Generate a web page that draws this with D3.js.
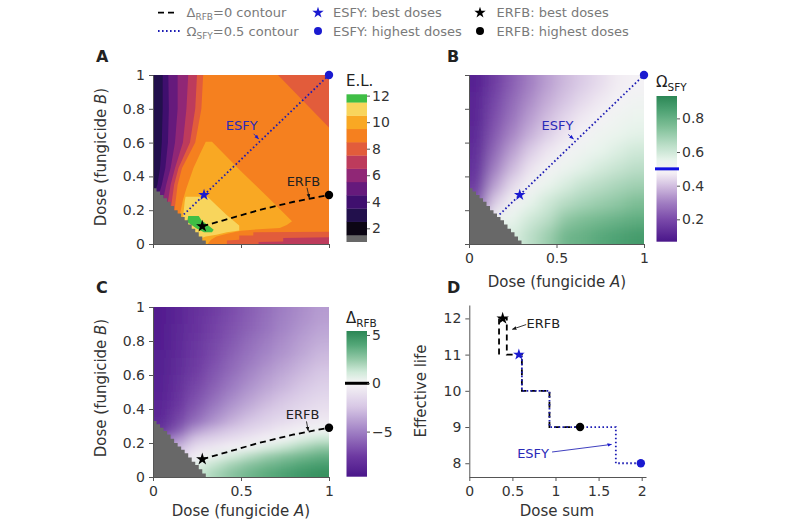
<!DOCTYPE html>
<html><head><meta charset="utf-8">
<script src="https://cdn.jsdelivr.net/npm/d3@7/dist/d3.min.js"></script>
<style>body{margin:0;background:#fff}svg{display:block;font-family:"DejaVu Sans",Verdana,sans-serif}</style>
</head><body><svg id="chart" width="800" height="530"></svg>
<script>
// ================= DATA =================
// Panel A: effective life (E.L.) levels and colours
const elLevels = [1,2,3,4,5,6,7,8,9,10,11,12];
const elColors = ["#686868","#0c0614","#22104c","#3f0f6e","#661a7c","#902776","#bd3b5c","#e25c3b","#f5801f","#f9a823","#f8d55c","#3fbe45"];
const elTicks = [2,4,6,8,10,12];
const elBackgroundLevel = 9;
// left-hand bands: region left of each edge has the given level
const elBandLevels = [8,7,6,5,4,3];
const elBandEdges = [
  [[0.285,1],[0.275,0.8],[0.24,0.6],[0.165,0.45],[0.14,0.35],[0.12,0.18]],
  [[0.25,1],[0.24,0.8],[0.21,0.6],[0.145,0.45],[0.12,0.35],[0.1,0.2]],
  [[0.20,1],[0.19,0.8],[0.17,0.6],[0.125,0.45],[0.10,0.35],[0.08,0.22]],
  [[0.14,1],[0.14,0.8],[0.125,0.6],[0.10,0.45],[0.075,0.35],[0.055,0.25]],
  [[0.087,1],[0.09,0.8],[0.085,0.6],[0.07,0.45],[0.05,0.35],[0.03,0.28]],
  [[0.055,1],[0.055,0.8],[0.05,0.6],[0.04,0.45],[0.025,0.35],[0.01,0.31]]
];
// other level patches
const elPatchLevels = [8,8,7,10,11,12];
const elPatches = [
  [[0.71,1],[1,1],[1,0.69]],
  [[0.42,0],[0.42,0.02],[0.49,0.025],[0.49,0.05],[0.57,0.05],[0.57,0.07],[1,0.072],[1,0]],
  [[0.6,0],[0.6,0.012],[0.74,0.015],[0.74,0.035],[1,0.04],[1,0]],
  [[0.30,0.605],[0.335,0.605],[0.5,0.43],[0.65,0.28],[0.79,0.135],[0.76,0.112],[0.72,0.095],[0.6,0.088],[0.5,0.078],[0.42,0.06],[0.36,0.045],[0.33,0.025],[0.31,0],[0.2,0],[0.15,0.16],[0.17,0.26],[0.19,0.33],[0.23,0.45],[0.27,0.54]],
  [[0.185,0.28],[0.31,0.28],[0.36,0.23],[0.42,0.17],[0.49,0.11],[0.49,0.08],[0.42,0.07],[0.36,0.055],[0.30,0.045],[0.26,0.03],[0.2,0.05],[0.17,0.14],[0.175,0.2],[0.18,0.25]],
  [[0.2,0.165],[0.26,0.165],[0.275,0.14],[0.32,0.105],[0.345,0.085],[0.335,0.07],[0.29,0.07],[0.25,0.09],[0.215,0.115],[0.195,0.13]]
];
// infeasible (grey) region boundary, sampled along dose A
const grayBoundary = [[0,0.33],[0.02,0.31],[0.04,0.29],[0.06,0.27],[0.08,0.25],[0.1,0.225],[0.12,0.2],[0.14,0.18],[0.16,0.16],[0.18,0.14],[0.2,0.115],[0.22,0.09],[0.24,0.07],[0.26,0.045],[0.28,0.02],[0.3,0]];

const doseTicksX = [0,0.5,1];
const doseTicksY = [0,0.2,0.4,0.6,0.8,1];

// Panel B: Omega_SFY grid (cell centres)
const omegaX = [0.05,0.15,0.25,0.35,0.45,0.55,0.65,0.75,0.85,0.95];
const omegaY = [0.95,0.85,0.75,0.65,0.55,0.45,0.35,0.25,0.15,0.05];
const omegaGrid = [
  [0.10,0.17,0.24,0.30,0.35,0.39,0.42,0.445,0.47,0.49],
  [0.11,0.19,0.26,0.32,0.37,0.41,0.44,0.465,0.49,0.51],
  [0.11,0.21,0.28,0.345,0.395,0.435,0.465,0.49,0.515,0.535],
  [0.12,0.23,0.31,0.375,0.425,0.46,0.49,0.52,0.54,0.56],
  [0.13,0.26,0.35,0.42,0.46,0.495,0.525,0.55,0.575,0.60],
  [0.14,0.30,0.39,0.455,0.495,0.53,0.56,0.59,0.615,0.64],
  [0.16,0.35,0.44,0.495,0.54,0.58,0.62,0.645,0.67,0.69],
  [0.21,0.42,0.495,0.55,0.60,0.645,0.675,0.70,0.72,0.75],
  [0.32,0.50,0.55,0.60,0.64,0.72,0.75,0.77,0.79,0.81],
  [0.50,0.60,0.58,0.64,0.70,0.78,0.80,0.83,0.85,0.87]
];
const omegaTicks = [0.2,0.4,0.6,0.8];
const omegaContourLevel = 0.5;

// Panel C: Delta_RFB grid (cell centres)
const deltaX = [0.05,0.15,0.25,0.35,0.45,0.55,0.65,0.75,0.85,0.95];
const deltaY = [0.975,0.925,0.875,0.825,0.775,0.725,0.675,0.625,0.575,0.525,0.475,0.425,0.375,0.325,0.275,0.225,0.175,0.125,0.075,0.025];
const deltaGrid = [
  [-9.2,-8.6,-8.0,-7.4,-6.8,-6.2,-5.6,-5.0,-4.5,-4.0],
  [-9.2,-8.6,-7.9,-7.3,-6.7,-6.1,-5.5,-4.9,-4.4,-3.9],
  [-9.2,-8.5,-7.9,-7.2,-6.6,-6.0,-5.4,-4.8,-4.2,-3.7],
  [-9.1,-8.5,-7.8,-7.1,-6.5,-5.8,-5.2,-4.6,-4.0,-3.5],
  [-9.1,-8.4,-7.7,-7.0,-6.3,-5.6,-5.0,-4.4,-3.8,-3.3],
  [-9.0,-8.4,-7.6,-6.9,-6.1,-5.4,-4.8,-4.2,-3.6,-3.0],
  [-9.0,-8.3,-7.5,-6.7,-5.9,-5.2,-4.5,-3.9,-3.3,-2.8],
  [-9.0,-8.2,-7.4,-6.5,-5.7,-4.9,-4.2,-3.6,-3.0,-2.5],
  [-8.9,-8.1,-7.2,-6.3,-5.4,-4.6,-3.9,-3.3,-2.7,-2.2],
  [-8.9,-8.0,-7.0,-6.0,-5.1,-4.3,-3.6,-3.0,-2.4,-1.9],
  [-8.8,-7.8,-6.7,-5.7,-4.7,-3.9,-3.2,-2.6,-2.0,-1.6],
  [-8.7,-7.6,-6.4,-5.3,-4.3,-3.5,-2.8,-2.2,-1.7,-1.3],
  [-8.6,-7.3,-6.0,-4.8,-3.8,-3.0,-2.3,-1.8,-1.3,-1.0],
  [-8.4,-7.0,-5.4,-4.2,-3.2,-2.4,-1.8,-1.3,-0.9,-0.6],
  [-8.0,-6.2,-4.0,-3.0,-2.3,-1.7,-1.1,-0.6,-0.2,0.2],
  [-6.0,-4.5,-2.5,-1.8,-1.3,-0.8,-0.3,0.2,0.8,1.3],
  [-5.0,-3.0,-1.2,-0.8,-0.3,0.2,0.8,1.4,2.0,2.5],
  [-4.0,-2.0,-0.3,0.4,1.0,1.7,2.3,2.8,3.2,3.6],
  [-3.0,-1.0,0.6,1.4,2.1,2.7,3.2,3.6,4.0,4.3],
  [-2.0,0.0,1.2,2.0,2.7,3.3,3.8,4.2,4.6,4.9]
];
const deltaTicks = [-5,0,5];
const deltaContourLevel = 0;

// contours and optimal doses (fungicide A, fungicide B)
const omegaContour = [[0.175,0.175],[0.5,0.5],[1,1]];
const deltaContour = [[0.28,0.105],[0.4,0.14],[0.6,0.2],[0.8,0.25],[1,0.29]];
const esfyBest = [0.29,0.29];
const esfyHighest = [1,1];
const erfbBest = [0.28,0.105];
const erfbHighest = [1,0.29];

// Panel D: effective life vs dose sum
const sumEsfy = [[0.575,11],[0.61,11],[0.61,10],[0.93,10],[0.93,9],[1.70,9],[1.70,8],[1.99,8]];
const sumErfb = [[0.345,11],[0.345,12],[0.435,12],[0.435,11],[0.61,11],[0.61,10],[0.93,10],[0.93,9],[1.285,9]];
const sumEsfyBest = [0.575,11];
const sumErfbBest = [0.387,12];
const sumEsfyHighest = [1.99,8];
const sumErfbHighest = [1.285,9];
const sumTicksX = [0,0.5,1,1.5,2];
const sumTicksY = [8,9,10,11,12];

// ================= DRAWING =================
const BLUE = "#1a1ad0", LINEBLUE = "#1c1cb4", TXT = "#333";
const TICKFS = 14, TITLEFS = 15;
const svg = d3.select("#chart");
const defs = svg.append("defs");

const xA = d3.scaleLinear([0,1],[153,329]), yA = d3.scaleLinear([0,1],[244,75]);
const xB = d3.scaleLinear([0,1],[469,644]), yB = d3.scaleLinear([0,1],[244,75]);
const xC = d3.scaleLinear([0,1],[153,329]), yC = d3.scaleLinear([0,1],[477,307]);
const xD = d3.scaleLinear([0,2.05],[469.3,646]), yD = d3.scaleLinear([7.62,12.37],[477,305]);

const elColor = d3.scaleOrdinal(elLevels, elColors);
const omegaColor = d3.scaleLinear()
  .domain([0.067,0.2,0.3,0.4,0.48,0.55,0.65,0.75,0.85,0.933])
  .range(["#4a168a","#7a4aaa","#a27fc2","#d2bfe0","#f6f2f6","#e8f4ec","#b6dcc4","#7fbf97","#4da273","#2b8655"]).clamp(true);
const deltaColor = d3.scaleLinear()
  .domain([-9.67,-7.5,-5,-2.5,0,1.2,2.5,4,5.41])
  .range(["#4a168a","#6e3aa2","#a080c4","#d6c6e4","#f7f5f7","#cfe9d8","#92c8a6","#52a677","#2b8655"]).clamp(true);

function clipFor(id, xs, ys){
  defs.append("clipPath").attr("id",id).append("rect")
    .attr("x",xs.range()[0]).attr("y",ys.range()[1])
    .attr("width",xs.range()[1]-xs.range()[0]).attr("height",ys.range()[0]-ys.range()[1]);
  return `url(#${id})`;
}
const lineGen = (xs,ys) => d3.line().x(d=>xs(d[0])).y(d=>ys(d[1]));
const polyPath = (xs,ys,pts) => lineGen(xs,ys)(pts) + "Z";

function grayRegion(g, xs, ys){
  const step = d3.line().x(d=>xs(d[0])).y(d=>ys(d[1])).curve(d3.curveStepAfter);
  g.append("path").attr("d", step([[0,0],...grayBoundary,[0,0]]) + "Z").attr("fill", elColor(1));
}

function heat(g, xs, ys, xc, yc, grid, color, blur, id){
  const dx = Math.abs(xc[1]-xc[0]), dy = Math.abs(yc[0]-yc[1]);
  defs.append("filter").attr("id",id).attr("x","-10%").attr("y","-10%").attr("width","120%").attr("height","120%")
    .append("feGaussianBlur").attr("stdDeviation", blur);
  const cells = [];
  grid.forEach((row,r)=>row.forEach((v,c)=>cells.push({r,c,v})));
  const inner = g.append("g").attr("filter",`url(#${id})`);
  inner.selectAll("rect").data(cells).join("rect")
    .attr("x", d => xs(xc[d.c]-dx/2 - (d.c===0?0.3:0)))
    .attr("width", d => xs(xc[d.c]+dx/2 + (d.c===xc.length-1?0.3:0)) - xs(xc[d.c]-dx/2 - (d.c===0?0.3:0)) + 0.6)
    .attr("y", d => ys(yc[d.r]+dy/2 + (d.r===0?0.3:0)))
    .attr("height", d => ys(yc[d.r]-dy/2 - (d.r===yc.length-1?0.3:0)) - ys(yc[d.r]+dy/2 + (d.r===0?0.3:0)) + 0.6)
    .attr("fill", d => color(d.v));
}

function styleAxis(ax){
  ax.attr("font-size",TICKFS).attr("font-family","DejaVu Sans, Verdana, sans-serif");
  ax.selectAll("text").attr("font-size",TICKFS).attr("fill",TXT);
  ax.selectAll("line").attr("stroke","#555");
  ax.select(".domain").attr("stroke","#555");
}
function doseAxes(xs, ys, showX, showY){
  const ay = svg.append("g").attr("transform",`translate(${xs.range()[0]},0)`)
    .call(d3.axisLeft(ys).tickValues(doseTicksY).tickSize(4).tickPadding(4).tickSizeOuter(0).tickFormat(showY? d=>String(d) : ""));
  styleAxis(ay);
  const ax = svg.append("g").attr("transform",`translate(0,${ys.range()[0]})`)
    .call(d3.axisBottom(xs).tickValues(doseTicksX).tickSize(4).tickPadding(5).tickSizeOuter(0).tickFormat(showX? d=>String(d) : ""));
  styleAxis(ax);
}

function star(g, xs, ys, p, color, size){
  g.append("path").attr("d", d3.symbol(d3.symbolStar, size)())
    .attr("transform",`translate(${xs(p[0])},${ys(p[1])})`).attr("fill",color);
}
function dot(g, xs, ys, p, color, r){
  g.append("circle").attr("cx",xs(p[0])).attr("cy",ys(p[1])).attr("r",r).attr("fill",color);
}
function dashedLine(g, xs, ys, pts){
  g.append("path").attr("d", lineGen(xs,ys)(pts)).attr("fill","none")
    .attr("stroke","#000").attr("stroke-width",1.8).attr("stroke-dasharray","6,4");
}
function dottedLine(g, xs, ys, pts){
  g.append("path").attr("d", lineGen(xs,ys)(pts)).attr("fill","none")
    .attr("stroke",LINEBLUE).attr("stroke-width",1.8).attr("stroke-dasharray","1.6,2.4");
}

// arrow markers
function marker(id, color){
  defs.append("marker").attr("id",id).attr("viewBox","0 0 10 10").attr("refX",9).attr("refY",5)
    .attr("markerWidth",5).attr("markerHeight",5).attr("orient","auto-start-reverse")
    .append("path").attr("d","M0,1L10,5L0,9Z").attr("fill",color);
}
marker("arrK","#111"); marker("arrB",BLUE);
function annot(g, xs, ys, label, pos, from, to, color, mk){
  g.append("text").attr("x",xs(pos[0])).attr("y",ys(pos[1])).attr("dy","0.35em")
    .attr("text-anchor","middle").attr("font-size",13).attr("fill",color).text(label);
  g.append("line").attr("x1",xs(from[0])).attr("y1",ys(from[1])).attr("x2",xs(to[0])).attr("y2",ys(to[1]))
    .attr("stroke",color).attr("stroke-width",0.9).attr("marker-end",`url(#${mk})`);
}

// ---------- Panel A ----------
{
  const g = svg.append("g").attr("clip-path", clipFor("clipA",xA,yA));
  g.append("rect").attr("x",xA(0)).attr("y",yA(1)).attr("width",xA(1)-xA(0)).attr("height",yA(0)-yA(1))
    .attr("fill", elColor(elBackgroundLevel));
  elBandEdges.forEach((edge,i)=>{
    g.append("path").attr("d", polyPath(xA,yA,[[0,1],...edge,[0,0]])).attr("fill", elColor(elBandLevels[i]));
  });
  elPatches.forEach((pts,i)=>{
    g.append("path").attr("d", polyPath(xA,yA,pts)).attr("fill", elColor(elPatchLevels[i]));
  });
  grayRegion(g,xA,yA);
  dottedLine(g,xA,yA,omegaContour);
  dashedLine(g,xA,yA,deltaContour);
  const m = svg.append("g");
  dot(m,xA,yA,esfyHighest,BLUE,4.2);
  dot(m,xA,yA,erfbHighest,"#000",4.2);
  star(m,xA,yA,esfyBest,BLUE,42);
  star(m,xA,yA,erfbBest,"#000",48);
  annot(m,xA,yA,"ESFY",[0.504,0.70],[0.572,0.652],[0.6,0.622],"#2a2ab8","arrB");
  annot(m,xA,yA,"ERFB",[0.855,0.37],[0.875,0.333],[0.888,0.272],"#222","arrK");
  doseAxes(xA,yA,false,true);
}

// ---------- Panel B ----------
{
  const g = svg.append("g").attr("clip-path", clipFor("clipB",xB,yB));
  heat(g,xB,yB,omegaX,omegaY,omegaGrid,omegaColor,"7 7","blurB");
  grayRegion(g,xB,yB);
  dottedLine(g,xB,yB,omegaContour);
  const m = svg.append("g");
  dot(m,xB,yB,esfyHighest,BLUE,4.2);
  star(m,xB,yB,esfyBest,BLUE,42);
  annot(m,xB,yB,"ESFY",[0.506,0.70],[0.567,0.648],[0.597,0.622],"#2a2ab8","arrB");
  doseAxes(xB,yB,true,false);
}

// ---------- Panel C ----------
{
  const g = svg.append("g").attr("clip-path", clipFor("clipC",xC,yC));
  heat(g,xC,yC,deltaX,deltaY,deltaGrid,deltaColor,"7 3.5","blurC");
  grayRegion(g,xC,yC);
  dashedLine(g,xC,yC,deltaContour);
  const m = svg.append("g");
  dot(m,xC,yC,erfbHighest,"#000",4.2);
  star(m,xC,yC,erfbBest,"#000",48);
  annot(m,xC,yC,"ERFB",[0.85,0.37],[0.872,0.327],[0.882,0.272],"#222","arrK");
  doseAxes(xC,yC,true,true);
}

// ---------- Panel D ----------
{
  const g = svg.append("g");
  dashedLine(g,xD,yD,sumErfb);
  dottedLine(g,xD,yD,sumEsfy);
  dot(g,xD,yD,sumErfbHighest,"#000",4.2);
  dot(g,xD,yD,sumEsfyHighest,BLUE,4.2);
  star(g,xD,yD,sumEsfyBest,BLUE,42);
  star(g,xD,yD,sumErfbBest,"#000",48);
  annot(g,xD,yD,"ERFB",[0.86,11.86],[0.66,11.83],[0.5,11.7],"#222","arrK");
  annot(g,xD,yD,"ESFY",[0.74,8.28],[0.96,8.31],[1.65,8.52],"#2a2ab8","arrB");
  const ay = svg.append("g").attr("transform",`translate(${xD.range()[0]},0)`)
    .call(d3.axisLeft(yD).tickValues(sumTicksY).tickSize(4).tickPadding(4).tickSizeOuter(0).tickFormat(d=>String(d)));
  styleAxis(ay);
  const ax = svg.append("g").attr("transform",`translate(0,${yD.range()[0]})`)
    .call(d3.axisBottom(xD).tickValues(sumTicksX).tickSize(4).tickPadding(5).tickSizeOuter(0).tickFormat(d=>String(d)));
  styleAxis(ax);
}

// ---------- Colorbars ----------
function cbTicks(x, ys, ticks){
  const ax = svg.append("g").attr("transform",`translate(${x},0)`)
    .call(d3.axisRight(ys).tickValues(ticks).tickSize(3).tickPadding(2).tickSizeOuter(0).tickFormat(d=>String(d).replace("-","\u2212")));
  styleAxis(ax);
  ax.select(".domain").remove();
}
function cbTitle(x, y, main, sub){
  const t = svg.append("text").attr("x",x).attr("y",y).attr("font-size",15).attr("fill","#222");
  t.append("tspan").text(main);
  if (sub) t.append("tspan").attr("font-size",10.5).attr("dy",4).text(sub);
}
// A: discrete
{
  const cy = d3.scaleLinear([0.99,12.1],[241.7,94.3]);
  const lo = cy.domain()[0], hi = cy.domain()[1];
  svg.append("g").selectAll("rect").data(elLevels).join("rect")
    .attr("x",346.5).attr("width",20.5)
    .attr("y", d => cy(Math.min(hi, d+0.5)))
    .attr("height", d => cy(Math.max(lo, d-0.5)) - cy(Math.min(hi, d+0.5)) + 0.3)
    .attr("fill", d => elColor(d));
  cbTicks(367, cy, elTicks);
  cbTitle(346, 86, "E.L.");
}
function gradientBar(id, x, cy, color, n){
  const [lo,hi] = cy.domain();
  const grad = defs.append("linearGradient").attr("id",id).attr("x1",0).attr("y1",1).attr("x2",0).attr("y2",0);
  d3.range(n+1).forEach(i=>{
    const v = lo + (hi-lo)*i/n;
    grad.append("stop").attr("offset", i/n).attr("stop-color", color(v));
  });
  svg.append("rect").attr("x",x).attr("width",20.5).attr("y",cy(hi)).attr("height",cy(lo)-cy(hi)).attr("fill",`url(#${id})`);
}
{
  const cy = d3.scaleLinear([0.067,0.933],[241.7,96]);
  gradientBar("gB", 656.5, cy, omegaColor, 60);
  svg.append("line").attr("x1",655).attr("x2",679).attr("y1",cy(omegaContourLevel)).attr("y2",cy(omegaContourLevel))
    .attr("stroke","#1010e0").attr("stroke-width",3);
  cbTicks(677, cy, omegaTicks);
  cbTitle(656, 87, "\u03A9", "SFY");
}
{
  const cy = d3.scaleLinear([-9.67,5.41],[476.7,331]);
  gradientBar("gC", 346.5, cy, deltaColor, 60);
  svg.append("line").attr("x1",345).attr("x2",369).attr("y1",cy(deltaContourLevel)).attr("y2",cy(deltaContourLevel))
    .attr("stroke","#000").attr("stroke-width",3);
  cbTicks(367, cy, deltaTicks);
  cbTitle(346, 323, "\u0394", "RFB");
}

// ---------- Titles / labels ----------
function letter(x,y,t){ svg.append("text").attr("x",x).attr("y",y).attr("font-size",16).attr("font-weight","bold").attr("fill","#222").text(t); }
letter(96,62,"A"); letter(447,62,"B"); letter(96,293,"C"); letter(447,293,"D");

function doseTitle(t, letterTxt){
  t.append("tspan").text("Dose (fungicide ");
  t.append("tspan").attr("font-style","italic").text(letterTxt);
  t.append("tspan").text(")");
}
function yTitle(x,y){ const t = svg.append("text").attr("transform",`translate(${x},${y}) rotate(-90)`).attr("text-anchor","middle").attr("font-size",TITLEFS).attr("fill",TXT); return t; }
function xTitle(x,y){ return svg.append("text").attr("x",x).attr("y",y).attr("text-anchor","middle").attr("font-size",TITLEFS).attr("fill",TXT); }
doseTitle(yTitle(106,157),"B");
doseTitle(yTitle(106,388),"B");
doseTitle(xTitle(557,287),"A");
doseTitle(xTitle(241,516),"A");
yTitle(426,391).text("Effective life");
xTitle(557,516).text("Dose sum");

// ---------- Legend ----------
{
  const g = svg.append("g");
  const lt = (x,y) => g.append("text").attr("x",x).attr("y",y).attr("dy","0.35em").attr("font-size",13).attr("fill","#7a7a7a");
  const r1 = 12.7, r2 = 31;
  g.append("line").attr("x1",158).attr("x2",174).attr("y1",r1).attr("y2",r1).attr("stroke","#000").attr("stroke-width",1.8).attr("stroke-dasharray","6,4");
  let t = lt(186.5,r1); t.append("tspan").text("\u0394"); t.append("tspan").attr("font-size",9).attr("dy",3).text("RFB"); t.append("tspan").attr("dy",-3).text("=0 contour");
  g.append("line").attr("x1",158).attr("x2",182).attr("y1",r2).attr("y2",r2).attr("stroke",LINEBLUE).attr("stroke-width",1.8).attr("stroke-dasharray","1.6,2.4");
  t = lt(186.5,r2); t.append("tspan").text("\u03A9"); t.append("tspan").attr("font-size",9).attr("dy",3).text("SFY"); t.append("tspan").attr("dy",-3).text("=0.5 contour");
  const ident = d3.scaleLinear([0,1],[0,1]);
  star(g, ident, ident, [318,r1], BLUE, 40);
  lt(333,r1).text("ESFY: best doses");
  dot(g, ident, ident, [318,r2], BLUE, 4);
  lt(333,r2).text("ESFY: highest doses");
  star(g, ident, ident, [480,r1], "#000", 40);
  lt(496.5,r1).text("ERFB: best doses");
  dot(g, ident, ident, [480,r2], "#000", 4);
  lt(496.5,r2).text("ERFB: highest doses");
}
</script></body></html>
